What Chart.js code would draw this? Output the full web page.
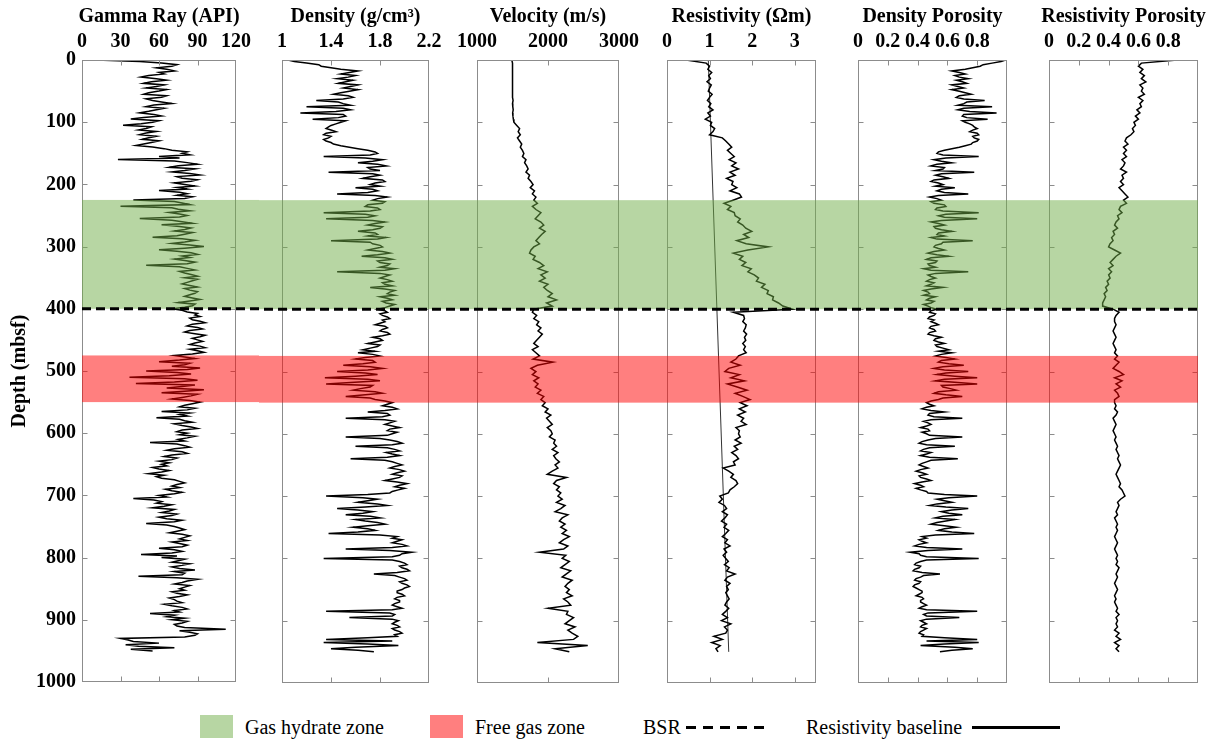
<!DOCTYPE html>
<html lang="en">
<head>
<meta charset="UTF-8">
<title>Well log panels</title>
<script src="https://cdn.jsdelivr.net/npm/chart.js"></script>
<style>
  body { margin: 0; background: #fff; font-family: 'Liberation Serif', 'Times New Roman', serif; }
  #wrap { position: relative; width: 1218px; height: 742px; overflow: hidden; }
  #wrap canvas { position: absolute; top: 0; }
  .lg { position: absolute; }
  .swatch { top: 715px; width: 33px; height: 23px; }
  .lg-text { top: 714px; font-size: 20px; line-height: 26px; color: #000; white-space: nowrap; }
  .lg-line { top: 726px; height: 3px; }
</style>
</head>
<body>
<div id="wrap">
  <div class="lg swatch" style="left:200px;background:rgba(112,173,71,0.5)"></div>
  <div class="lg lg-text" style="left:245px">Gas hydrate zone</div>
  <div class="lg swatch" style="left:430px;background:rgba(255,0,0,0.5)"></div>
  <div class="lg lg-text" style="left:475px">Free gas zone</div>
  <div class="lg lg-text" style="left:643px">BSR</div>
  <div class="lg lg-line" style="left:686px;width:84px;background:repeating-linear-gradient(90deg,#000 0 10px,transparent 10px 17px)"></div>
  <div class="lg lg-text" style="left:806px">Resistivity baseline</div>
  <div class="lg lg-line" style="left:972px;width:88px;background:#000"></div>
</div>

<script>
// gamma, density and density porosity are sampled every 2.5 m,
// velocity and the resistivity logs every 5 m (0 to 950 mbsf)
const fineStep = 2.5;
const coarseStep = 5;

const gammaRay = [
  11, 45, 62, 74, 70, 58, 66, 72, 60, 64, 52, 46, 58, 66, 54, 48, 64, 58, 50, 66,
  60, 52, 48, 66, 62, 50, 55, 62, 70, 56, 50, 64, 58, 52, 45, 56, 62, 48, 38, 60,
  55, 46, 32, 54, 50, 44, 58, 50, 45, 58, 52, 47, 60, 54, 48, 42, 55, 64, 70, 82,
  78, 84, 60, 76, 28, 72, 82, 90, 75, 68, 88, 80, 70, 84, 92, 74, 78, 90, 85, 72,
  80, 88, 74, 82, 60, 76, 82, 74, 86, 80, 40, 72, 78, 84, 30, 70, 75, 84, 68, 76,
  82, 76, 45, 70, 78, 86, 62, 76, 85, 80, 72, 86, 80, 74, 55, 78, 88, 80, 70, 84,
  95, 80, 60, 74, 85, 90, 78, 84, 72, 80, 88, 82, 50, 76, 82, 88, 76, 80, 85, 90,
  80, 90, 86, 82, 78, 84, 90, 80, 84, 90, 88, 84, 80, 86, 92, 84, 75, 88, 86, 80,
  70, 78, 82, 90, 88, 92, 84, 86, 92, 96, 86, 82, 90, 94, 84, 80, 88, 96, 92, 86,
  90, 94, 88, 84, 92, 96, 84, 90, 95, 86, 72, 80, 88, 76, 60, 84, 80, 70, 92, 82,
  50, 74, 85, 68, 37, 80, 90, 72, 42, 88, 78, 66, 95, 80, 62, 90, 85, 78, 70, 84,
  92, 86, 80, 76, 88, 82, 62, 84, 76, 82, 58, 76, 80, 86, 72, 78, 85, 90, 78, 74,
  82, 76, 88, 82, 75, 80, 53, 74, 80, 84, 72, 66, 78, 82, 70, 64, 74, 70, 60, 68,
  62, 66, 55, 60, 68, 62, 52, 64, 58, 62, 72, 76, 80, 74, 70, 76, 65, 70, 78, 72,
  60, 66, 40, 56, 62, 58, 70, 64, 55, 72, 68, 62, 74, 70, 60, 66, 78, 72, 50, 66,
  72, 76, 80, 74, 68, 78, 84, 80, 76, 82, 70, 76, 82, 78, 60, 72, 78, 70, 46, 74,
  62, 80, 75, 70, 84, 78, 70, 76, 88, 72, 80, 78, 44, 74, 90, 82, 78, 72, 84, 80,
  76, 80, 70, 74, 82, 76, 68, 72, 74, 78, 64, 70, 78, 82, 72, 76, 53, 72, 66, 80,
  70, 82, 78, 72, 74, 80, 112, 76, 84, 90, 88, 80, 30, 36, 40, 60, 34, 44, 72, 38,
  55
];

const bulkDensity = [
  1.05, 1.1, 1.2, 1.3, 1.32, 1.4, 1.48, 1.62, 1.55, 1.48, 1.6, 1.54, 1.45, 1.58, 1.52, 1.46, 1.62, 1.56, 1.5, 1.62,
  1.55, 1.48, 1.42, 1.54, 1.58, 1.5, 1.28, 1.46, 1.5, 1.56, 1.2, 1.5, 1.56, 1.44, 1.15, 1.5, 1.52, 1.46, 1.25, 1.52,
  1.48, 1.44, 1.4, 1.38, 1.36, 1.4, 1.44, 1.36, 1.34, 1.4, 1.38, 1.34, 1.36, 1.4, 1.42, 1.48, 1.55, 1.62, 1.7, 1.76,
  1.78, 1.72, 1.34, 1.68, 1.82, 1.74, 1.62, 1.78, 1.85, 1.7, 1.72, 1.8, 1.38, 1.74, 1.8, 1.72, 1.66, 1.82, 1.84, 1.76,
  1.72, 1.8, 1.6, 1.74, 1.78, 1.7, 1.45, 1.76, 1.86, 1.78, 1.74, 1.84, 1.82, 1.7, 1.68, 1.78, 1.8, 1.72, 1.34, 1.68,
  1.76, 1.7, 1.36, 1.74, 1.84, 1.76, 1.7, 1.82, 1.8, 1.74, 1.62, 1.76, 1.78, 1.7, 1.85, 1.78, 1.4, 1.72, 1.74, 1.8,
  1.82, 1.76, 1.7, 1.82, 1.88, 1.78, 1.65, 1.84, 1.9, 1.78, 1.8, 1.88, 1.86, 1.8, 1.92, 1.84, 1.45, 1.8, 1.88, 1.84,
  1.8, 1.86, 1.9, 1.82, 1.84, 1.9, 1.72, 1.84, 1.92, 1.88, 1.86, 1.92, 1.8, 1.86, 1.9, 1.82, 1.85, 1.92, 1.88, 1.84,
  1.78, 1.84, 1.86, 1.8, 1.82, 1.86, 1.88, 1.82, 1.84, 1.8, 1.76, 1.84, 1.86, 1.82, 1.8, 1.86, 1.88, 1.82, 1.74, 1.8,
  1.82, 1.76, 1.7, 1.8, 1.78, 1.72, 1.66, 1.76, 1.62, 1.74, 1.8, 1.68, 1.6, 1.74, 1.76, 1.66, 1.5, 1.72, 1.82, 1.7,
  1.45, 1.68, 1.78, 1.6, 1.35, 1.7, 1.8, 1.56, 1.36, 1.74, 1.72, 1.64, 1.58, 1.76, 1.82, 1.68, 1.52, 1.72, 1.76, 1.84,
  1.9, 1.86, 1.82, 1.9, 1.94, 1.84, 1.7, 1.86, 1.88, 1.82, 1.52, 1.84, 1.92, 1.88, 1.84, 1.9, 1.96, 1.88, 1.86, 1.94,
  1.9, 1.86, 1.52, 1.8, 1.88, 1.94, 1.98, 1.9, 1.6, 1.86, 1.92, 1.96, 1.85, 1.9, 1.96, 1.86, 1.56, 1.84, 1.9, 1.94,
  1.98, 1.92, 1.88, 1.96, 2.0, 1.94, 1.9, 1.98, 1.96, 1.9, 1.84, 1.94, 2.02, 1.96, 1.92, 2.0, 1.95, 1.9, 1.88, 1.7,
  1.36, 1.66, 1.78, 1.7, 1.62, 1.78, 1.86, 1.68, 1.45, 1.62, 1.74, 1.66, 1.52, 1.72, 1.8, 1.6, 1.68, 1.78, 1.84, 1.7,
  1.58, 1.7, 1.76, 1.62, 1.38, 1.8, 1.94, 1.9, 1.98, 1.94, 1.9, 1.98, 2.02, 1.9, 1.52, 1.88, 2.06, 1.98, 1.96, 1.9,
  1.34, 1.9, 1.96, 2.0, 2.02, 1.96, 1.98, 2.02, 2.04, 1.94, 1.75, 1.92, 1.96, 2.0, 2.02, 1.96, 1.98, 2.02, 2.04, 2.0,
  1.98, 1.94, 1.94, 1.98, 2.0, 1.94, 1.92, 1.96, 1.96, 1.92, 1.9, 1.94, 1.98, 1.9, 1.36, 1.88, 1.92, 1.9, 1.55, 1.9,
  1.95, 1.92, 1.9, 1.94, 1.96, 1.9, 1.92, 1.96, 1.98, 1.92, 1.94, 1.7, 1.36, 1.9, 1.34, 1.7, 1.95, 1.6, 1.4, 1.62,
  1.75
];

const densityPorosity = [
  0.99, 0.96, 0.90, 0.84, 0.82, 0.77, 0.72, 0.63, 0.68, 0.72, 0.65, 0.68, 0.74, 0.66, 0.70, 0.73, 0.63, 0.67, 0.71, 0.63,
  0.68, 0.72, 0.76, 0.68, 0.66, 0.71, 0.85, 0.73, 0.71, 0.67, 0.90, 0.71, 0.67, 0.75, 0.93, 0.71, 0.70, 0.73, 0.87, 0.70,
  0.72, 0.75, 0.77, 0.78, 0.80, 0.77, 0.75, 0.80, 0.81, 0.77, 0.78, 0.81, 0.80, 0.77, 0.76, 0.72, 0.68, 0.63, 0.58, 0.54,
  0.53, 0.57, 0.81, 0.59, 0.51, 0.56, 0.63, 0.53, 0.49, 0.58, 0.57, 0.52, 0.78, 0.56, 0.52, 0.57, 0.61, 0.51, 0.49, 0.54,
  0.57, 0.52, 0.65, 0.56, 0.53, 0.58, 0.74, 0.54, 0.48, 0.53, 0.56, 0.49, 0.51, 0.58, 0.59, 0.53, 0.52, 0.57, 0.81, 0.59,
  0.54, 0.58, 0.80, 0.56, 0.49, 0.54, 0.58, 0.51, 0.52, 0.56, 0.63, 0.54, 0.53, 0.58, 0.49, 0.53, 0.77, 0.57, 0.56, 0.52,
  0.51, 0.54, 0.58, 0.51, 0.47, 0.53, 0.61, 0.49, 0.46, 0.53, 0.52, 0.47, 0.48, 0.52, 0.44, 0.49, 0.74, 0.52, 0.47, 0.49,
  0.52, 0.48, 0.46, 0.51, 0.49, 0.46, 0.57, 0.49, 0.44, 0.47, 0.48, 0.44, 0.52, 0.48, 0.46, 0.51, 0.49, 0.44, 0.47, 0.49,
  0.53, 0.49, 0.48, 0.52, 0.51, 0.48, 0.47, 0.51, 0.49, 0.52, 0.54, 0.49, 0.48, 0.51, 0.52, 0.48, 0.47, 0.51, 0.56, 0.52,
  0.51, 0.54, 0.58, 0.52, 0.53, 0.57, 0.61, 0.54, 0.63, 0.56, 0.52, 0.59, 0.65, 0.56, 0.54, 0.61, 0.71, 0.57, 0.51, 0.58,
  0.74, 0.59, 0.53, 0.65, 0.80, 0.58, 0.52, 0.67, 0.80, 0.56, 0.57, 0.62, 0.66, 0.54, 0.51, 0.59, 0.70, 0.57, 0.54, 0.49,
  0.46, 0.48, 0.51, 0.46, 0.43, 0.49, 0.58, 0.48, 0.47, 0.51, 0.70, 0.49, 0.44, 0.47, 0.49, 0.46, 0.42, 0.47, 0.48, 0.43,
  0.46, 0.48, 0.70, 0.52, 0.47, 0.43, 0.41, 0.46, 0.65, 0.48, 0.44, 0.42, 0.49, 0.46, 0.42, 0.48, 0.67, 0.49, 0.46, 0.43,
  0.41, 0.44, 0.47, 0.42, 0.39, 0.43, 0.46, 0.41, 0.42, 0.46, 0.49, 0.43, 0.38, 0.42, 0.44, 0.39, 0.42, 0.46, 0.47, 0.58,
  0.80, 0.61, 0.53, 0.58, 0.63, 0.53, 0.48, 0.59, 0.74, 0.63, 0.56, 0.61, 0.70, 0.57, 0.52, 0.65, 0.59, 0.53, 0.49, 0.58,
  0.66, 0.58, 0.54, 0.63, 0.78, 0.52, 0.43, 0.46, 0.41, 0.43, 0.46, 0.41, 0.38, 0.46, 0.70, 0.47, 0.35, 0.41, 0.42, 0.46,
  0.81, 0.46, 0.42, 0.39, 0.38, 0.42, 0.41, 0.38, 0.37, 0.43, 0.55, 0.44, 0.42, 0.39, 0.38, 0.42, 0.41, 0.38, 0.37, 0.39,
  0.41, 0.43, 0.43, 0.41, 0.39, 0.43, 0.44, 0.42, 0.42, 0.44, 0.46, 0.43, 0.41, 0.46, 0.80, 0.47, 0.44, 0.46, 0.68, 0.46,
  0.42, 0.44, 0.46, 0.43, 0.42, 0.46, 0.44, 0.42, 0.41, 0.44, 0.43, 0.58, 0.80, 0.46, 0.81, 0.58, 0.42, 0.65, 0.77, 0.63,
  0.55
];

const velocity = [
  1490, 1500, 1495, 1505, 1500, 1498, 1505, 1500, 1496, 1502,
  1500, 1505, 1498, 1508, 1500, 1504, 1510, 1502, 1506, 1512,
  1520, 1560, 1600, 1580, 1610, 1570, 1600, 1630, 1610, 1640,
  1660, 1640, 1690, 1670, 1700, 1720, 1690, 1740, 1720, 1760,
  1790, 1750, 1810, 1780, 1830, 1800, 1850, 1780, 1830, 1900,
  1860, 1820, 1900, 1940, 1880, 1960, 1910, 1870, 1830, 1880,
  1800, 1760, 1740, 1820, 1790, 1880, 1940, 1860, 1990, 1900,
  1960, 1880, 2000, 1940, 1990, 2060, 2000, 2120, 1980, 2060,
  1800, 1780, 1840, 1800, 1870, 1840, 1900, 1860, 1920, 1880,
  1840, 1800, 1860, 1780, 1830, 1880, 1790, 2070, 1850, 1760,
  1830, 1780, 1870, 1800, 1860, 1820, 1900, 1850, 1940, 1900,
  1960, 1920, 2000, 1960, 2040, 1980, 2020, 2060, 1990, 2040,
  2060, 2020, 2100, 2080, 2120, 2060, 2140, 2080, 2110, 2160,
  2100, 2140, 2060, 1990, 2260, 2120, 2080, 2160, 2120, 2180,
  2140, 2200, 2120, 2240, 2180, 2100, 2280, 2200, 2160, 2240,
  2180, 2260, 2200, 2300, 2220, 2160, 2280, 2220, 1880, 2250,
  2200, 2300, 2240, 2180, 2320, 2260, 2200, 2340, 2280, 2240,
  2300, 2260, 2340, 2220, 2280, 2320, 2000, 2280, 2260, 2360,
  2300, 2240, 2380, 2280, 2340, 2420, 2360, 1850, 2560, 2100,
  2300
];

const resistivity = [
  0.45, 0.92, 1.0, 0.96, 1.05, 0.98, 1.02, 0.94, 1.04, 1.0,
  0.97, 1.06, 1.0, 0.95, 1.03, 0.98, 1.08, 0.96, 1.02, 0.9,
  1.05, 1.02, 1.12, 1.08, 1.0, 1.3, 1.38, 1.45, 1.52, 1.42,
  1.5, 1.58, 1.46, 1.62, 1.52, 1.68, 1.48, 1.6, 1.4, 1.55,
  1.52, 1.64, 1.48, 1.7, 1.75, 1.55, 1.34, 1.5, 1.42, 1.58,
  1.6, 1.72, 1.66, 1.78, 1.85, 1.99, 1.8, 1.92, 1.64, 1.86,
  2.38, 1.9, 1.56, 1.78, 1.7, 1.85, 1.76, 1.98, 1.9, 2.05,
  2.15, 2.1, 2.3, 2.22, 2.38, 2.35, 2.5, 2.48, 2.62, 2.72,
  2.95, 1.56, 1.8, 1.82, 1.78, 1.86, 1.84, 1.8, 1.87, 1.82,
  1.85, 1.78, 1.84, 1.8, 1.86, 1.68, 1.62, 1.5, 1.72, 1.45,
  1.36, 1.7, 1.5, 1.82, 1.42, 1.65, 1.88, 1.6, 1.78, 1.95,
  1.72, 1.88, 1.7, 1.84, 1.66, 1.8, 1.74, 1.86, 1.62, 1.7,
  1.68, 1.72, 1.6, 1.74, 1.58, 1.66, 1.52, 1.62, 1.68, 1.56,
  1.6, 1.32, 1.45, 1.56, 1.5, 1.62, 1.66, 1.58, 1.48, 1.44,
  1.24, 1.3, 1.22, 1.35, 1.4, 1.3, 1.42, 1.36, 1.28, 1.4,
  1.34, 1.45, 1.38, 1.3, 1.42, 1.36, 1.48, 1.34, 1.4, 1.32,
  1.38, 1.44, 1.35, 1.46, 1.4, 1.6, 1.42, 1.36, 1.48, 1.4,
  1.44, 1.38, 1.42, 1.46, 1.4, 1.36, 1.45, 1.38, 1.3, 1.42,
  1.28, 1.5, 1.35, 1.42, 1.38, 1.1, 1.3, 1.05, 1.25, 1.15,
  1.2
];

const resistivityPorosity = [
  0.86, 0.62, 0.6, 0.63, 0.61, 0.64, 0.62, 0.65, 0.61, 0.63,
  0.62, 0.64, 0.6, 0.63, 0.61, 0.62, 0.59, 0.61, 0.58, 0.6,
  0.57, 0.58, 0.56, 0.57, 0.55, 0.52, 0.51, 0.53, 0.5, 0.52,
  0.5, 0.52, 0.49, 0.51, 0.5, 0.48, 0.52, 0.49, 0.5, 0.48,
  0.5, 0.47, 0.49, 0.51, 0.53, 0.5, 0.52, 0.48, 0.47, 0.49,
  0.46, 0.47, 0.45, 0.44, 0.46, 0.43, 0.44, 0.42, 0.43, 0.41,
  0.4, 0.44, 0.48, 0.45, 0.43, 0.41, 0.43, 0.4, 0.42, 0.4,
  0.41, 0.39, 0.4, 0.38, 0.39, 0.37, 0.38, 0.37, 0.36, 0.36,
  0.43, 0.47, 0.45, 0.44, 0.44, 0.45, 0.44, 0.43, 0.44, 0.45,
  0.44, 0.43, 0.44, 0.45, 0.44, 0.46, 0.44, 0.47, 0.45, 0.43,
  0.47, 0.5, 0.44, 0.49, 0.45, 0.48, 0.44, 0.46, 0.47, 0.44,
  0.44, 0.45, 0.44, 0.46, 0.45, 0.43, 0.44, 0.45, 0.44, 0.43,
  0.44, 0.45, 0.44, 0.45, 0.46, 0.45, 0.46, 0.47, 0.46, 0.47,
  0.48, 0.47, 0.46, 0.45, 0.46, 0.47, 0.48, 0.47, 0.49, 0.5,
  0.51, 0.48, 0.46, 0.47, 0.46, 0.45, 0.46, 0.44, 0.45, 0.46,
  0.45, 0.46, 0.45, 0.44, 0.45, 0.46, 0.45, 0.44, 0.45, 0.46,
  0.45, 0.46, 0.45, 0.47, 0.46, 0.45, 0.46, 0.45, 0.44, 0.45,
  0.46, 0.45, 0.44, 0.45, 0.44, 0.45, 0.46, 0.45, 0.47, 0.45,
  0.46, 0.45, 0.46, 0.44, 0.47, 0.45, 0.48, 0.44, 0.47, 0.45,
  0.47
];

// straight resistivity baseline (Ωm) between two depths
const baselineDepths = [0, 950];
const baselineValues = [0.97, 1.45];

// interpreted intervals (mbsf)
const hydrateZone = [225, 400];
const freeGasZone = [475, 550];
const bsrDepth = 400;

const hydrateColor = 'rgba(112,173,71,0.5)';
const freeGasColor = 'rgba(255,0,0,0.5)';

Chart.defaults.font.family = "'Liberation Serif', 'Times New Roman', serif";
Chart.defaults.color = '#000';

// page layout: canvas span and plot frame of each track (px)
const tracks = [
  { title: 'Gamma Ray (API)', values: gammaRay, sampleStep: fineStep, min: 0, max: 120, step: 30, left: 0, right: 259, areaLeft: 82, areaRight: 236 },
  { title: 'Density (g/cm³)', values: bulkDensity, sampleStep: fineStep, min: 1, max: 2.2, step: 0.4, left: 259, right: 451, areaLeft: 282, areaRight: 429 },
  { title: 'Velocity (m/s)', values: velocity, sampleStep: coarseStep, min: 1000, max: 3000, step: 1000, left: 451, right: 645, areaLeft: 473, areaRight: 623 },
  { title: 'Resistivity (Ωm)', values: resistivity, sampleStep: coarseStep, min: 0, max: 3.5, step: 1, left: 645, right: 837, areaLeft: 667, areaRight: 816, baseline: true },
  { title: 'Density Porosity', values: densityPorosity, sampleStep: fineStep, min: 0, max: 1, step: 0.2, left: 837, right: 1028, areaLeft: 858, areaRight: 1007, hideMax: true },
  { title: 'Resistivity Porosity', values: resistivityPorosity, sampleStep: coarseStep, min: 0, max: 1, step: 0.2, left: 1028, right: 1218, areaLeft: 1049, areaRight: 1198, hideMax: true }
];

const CANVAS_H = 700;
const AREA_BOTTOM = 683;
const firstAreaLeft = tracks[0].areaLeft;

// frame, inward ticks, track title, shaded intervals and the BSR line
const logOverlay = {
  id: 'logOverlay',
  afterDatasetsDraw(chart, args, opts) {
    const { ctx, chartArea: a, scales: { x, y } } = chart;
    ctx.save();

    const L = Math.round(a.left) + 0.5, R = Math.round(a.right) - 0.5;
    const T = Math.round(a.top) + 0.5, B = Math.round(a.bottom) - 0.5;
    ctx.strokeStyle = '#8c8c8c';
    ctx.lineWidth = 1;
    ctx.strokeRect(L, T, R - L, B - T);
    ctx.beginPath();
    x.ticks.forEach(t => {
      if (t.value <= x.min || t.value >= x.max) return;
      const px = Math.round(x.getPixelForValue(t.value)) + 0.5;
      ctx.moveTo(px, T); ctx.lineTo(px, T + 5);
      ctx.moveTo(px, B); ctx.lineTo(px, B - 5);
    });
    y.ticks.forEach(t => {
      if (t.value <= y.min || t.value >= y.max) return;
      const py = Math.round(y.getPixelForValue(t.value)) + 0.5;
      ctx.moveTo(L, py); ctx.lineTo(L + 5, py);
      ctx.moveTo(R, py); ctx.lineTo(R - 5, py);
    });
    ctx.stroke();

    ctx.fillStyle = '#000';
    ctx.font = "bold 20px 'Liberation Serif', 'Times New Roman', serif";
    ctx.textAlign = 'center';
    ctx.textBaseline = 'middle';
    ctx.fillText(opts.title, (a.left + a.right) / 2, 17);

    const zl = opts.first ? a.left : 0;
    const zr = opts.last ? a.right : chart.width;
    [[hydrateZone, hydrateColor], [freeGasZone, freeGasColor]].forEach(([z, c]) => {
      const top = y.getPixelForValue(z[0]);
      const bottom = y.getPixelForValue(z[1]);
      ctx.fillStyle = c;
      ctx.fillRect(zl, top, zr - zl, bottom - top);
    });

    const by = y.getPixelForValue(bsrDepth);
    ctx.strokeStyle = '#000';
    ctx.lineWidth = 3;
    ctx.setLineDash([9, 5]);
    ctx.lineDashOffset = opts.pageLeft + zl - firstAreaLeft;
    ctx.beginPath();
    ctx.moveTo(zl, by);
    ctx.lineTo(zr, by);
    ctx.stroke();
    ctx.restore();
  }
};

const wrap = document.getElementById('wrap');
const tickFont = { size: 20, weight: 'bold' };

tracks.forEach((tr, i) => {
  const first = i === 0;
  const last = i === tracks.length - 1;
  const canvas = document.createElement('canvas');
  canvas.width = tr.right - tr.left;
  canvas.height = CANVAS_H;
  canvas.style.left = tr.left + 'px';
  wrap.appendChild(canvas);

  const datasets = [{
    data: tr.values.map((v, k) => ({ x: v, y: k * tr.sampleStep })),
    borderColor: '#000',
    borderWidth: 1.5,
    pointRadius: 0,
    tension: 0
  }];
  if (tr.baseline) {
    datasets.push({
      data: baselineDepths.map((d, k) => ({ x: baselineValues[k], y: d })),
      borderColor: '#333',
      borderWidth: 1,
      pointRadius: 0
    });
  }

  const yScale = {
    type: 'linear',
    reverse: true,
    min: 0,
    max: 1000,
    display: first,
    grid: { display: false, drawTicks: false },
    border: { display: false },
    ticks: { stepSize: 100, padding: 6, font: tickFont, color: '#000', callback: v => String(v) },
    title: { display: true, text: 'Depth (mbsf)', font: { size: 20, weight: 'bold' }, color: '#000', padding: { top: 8, bottom: 0 } }
  };
  if (first) yScale.afterFit = s => { s.width = tr.areaLeft; };

  new Chart(canvas, {
    type: 'line',
    data: { datasets },
    options: {
      responsive: false,
      animation: false,
      indexAxis: 'y',
      layout: {
        padding: {
          left: first ? 0 : tr.areaLeft - tr.left,
          right: tr.right - tr.areaRight,
          top: 0,
          bottom: CANVAS_H - AREA_BOTTOM
        }
      },
      plugins: {
        legend: { display: false },
        tooltip: { enabled: false },
        logOverlay: { title: tr.title, first, last, pageLeft: tr.left }
      },
      scales: {
        x: {
          type: 'linear',
          position: 'top',
          min: tr.min,
          max: tr.max,
          grid: { display: false, drawTicks: false },
          border: { display: false },
          ticks: {
            stepSize: tr.step,
            autoSkip: false,
            includeBounds: false,
            maxRotation: 0,
            padding: 6,
            font: tickFont,
            color: '#000',
            callback: v => (tr.hideMax && v === tr.max) ? '' : String(+v.toFixed(2))
          },
          afterFit: s => { s.height = 60; }
        },
        y: yScale
      }
    },
    plugins: [logOverlay]
  });
});
</script>
</body>
</html>
